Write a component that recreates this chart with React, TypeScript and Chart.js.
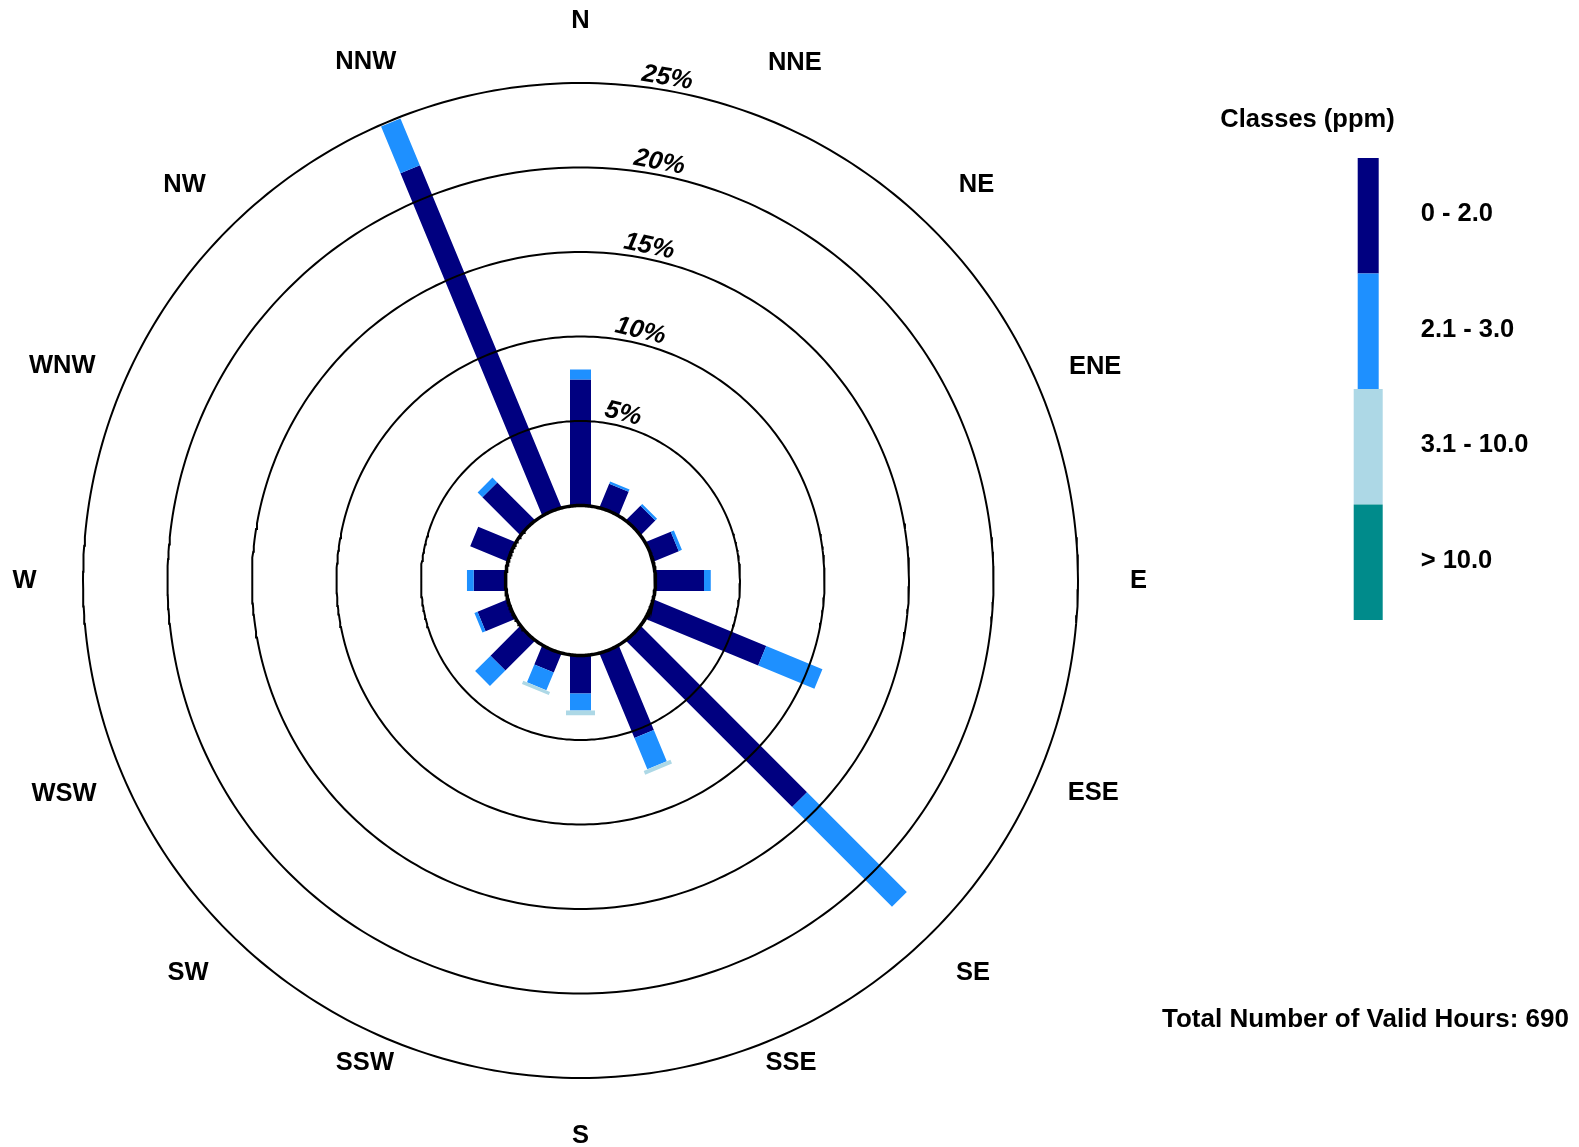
import React, { useEffect, useRef } from 'react';
import { Chart, registerables } from 'chart.js';

Chart.register(...registerables);

// ---------- data ----------
const directions = ['N', 'NNE', 'NE', 'ENE', 'E', 'ESE', 'SE', 'SSE', 'S', 'SSW', 'SW', 'WSW', 'W', 'WNW', 'NW', 'NNW'];
const classLabels = ['0 - 2.0', '2.1 - 3.0', '3.1 - 10.0', '> 10.0'];
// frequency (%) per direction for each concentration class
const class0to2 = [7.45, 1.5, 1.2, 1.6, 2.87, 7.2, 13.9, 5.4, 2.25, 1.2, 2.47, 1.9, 1.88, 2.37, 3.15, 21.9];
const class2to3 = [0.6, 0.15, 0.15, 0.2, 0.4, 3.6, 8.35, 2.0, 1.0, 1.14, 1.29, 0.2, 0.4, 0, 0.4, 3.0];
const class3to10 = [0, 0, 0, 0, 0, 0, 0, 0.24, 0.28, 0.2, 0, 0, 0, 0, 0, 0];
const classAbove10 = [0, 0, 0, 0, 0, 0, 0, 0, 0, 0, 0, 0, 0, 0, 0, 0];
const ringValues = [5, 10, 15, 20, 25];
const ringLabels = ['5%', '10%', '15%', '20%', '25%'];
const legendTitle = 'Classes (ppm)';
const totalLabel = 'Total Number of Valid Hours: 690';

// ---------- styling / layout ----------
const W = 1579;
const H = 1147;
const CX = 580.5;
const CY = 580.5;
const PX_PER_PCT = 16.9;
const HOLE_PX = 75;
const HOLE = HOLE_PX / PX_PER_PCT; // hole radius expressed in % units
const classColors = ['#000080', '#1E90FF', '#ADD8E6', '#008B8B'];
const classWidths = [21, 21, 29, 29];
const legendWidths = [21, 21, 29, 29];
const FONT = '"Liberation Sans", Arial, Helvetica, sans-serif';
const FS = 25.5;
// radial distance (px) and angle (deg) of each direction label's centre
const labelRadiusPx = [560, 560, 560, 557, 558, 555, 555, 526, 555, 528, 555, 559, 556, 561, 560, 561];
const labelAngleDeg = [0, 22.5, 45, 67.5, 90, 112.5, 135, 156.4, 180, 204.1, 225, 247.5, 270, 292.5, 315, 337.5];
// angle (deg, clockwise from north) of each ring label's centre
const ringLabelAngles = [14.3, 13.5, 11.6, 10.7, 9.8];

const polar = (r: number, i: number) => {
  const a = (i * 22.5 * Math.PI) / 180;
  return { x: r * Math.sin(a), y: r * Math.cos(a) };
};

const circle = (r: number) => {
  const pts = [] as { x: number; y: number }[];
  for (let d = 0; d <= 360; d += 1) {
    const a = (d * Math.PI) / 180;
    pts.push({ x: r * Math.sin(a), y: r * Math.cos(a) });
  }
  return pts;
};

const labelPlugin = {
  id: 'roseLabels',
  afterDraw(chart: any) {
    const ctx = chart.ctx as CanvasRenderingContext2D;
    const xs = chart.scales.x;
    const ys = chart.scales.y;
    ctx.save();
    ctx.fillStyle = '#000';
    // direction labels
    ctx.font = `bold ${FS}px ${FONT}`;
    ctx.textAlign = 'center';
    ctx.textBaseline = 'middle';
    directions.forEach((d, i) => {
      const labR = (labelRadiusPx[i] - HOLE_PX) / PX_PER_PCT + HOLE;
      const a = (labelAngleDeg[i] * Math.PI) / 180;
      ctx.fillText(d, xs.getPixelForValue(labR * Math.sin(a)), ys.getPixelForValue(labR * Math.cos(a)));
    });
    // ring labels
    ctx.font = `italic bold ${FS}px ${FONT}`;
    ringValues.forEach((v, k) => {
      const ang = (ringLabelAngles[k] * Math.PI) / 180;
      const rData = HOLE + v + 12.5 / PX_PER_PCT;
      const px = xs.getPixelForValue(rData * Math.sin(ang));
      const py = ys.getPixelForValue(rData * Math.cos(ang));
      ctx.save();
      ctx.translate(px, py);
      ctx.rotate(ang);
      ctx.fillText(ringLabels[k], 0, 0);
      ctx.restore();
    });
    // legend
    ctx.font = `bold ${FS}px ${FONT}`;
    ctx.textAlign = 'center';
    ctx.fillText(legendTitle, 1307.5, 120);
    const segTop = 158;
    const segH = 115.5;
    classLabels.forEach((lab, c) => {
      const wd = legendWidths[c];
      const x0 = 1368.2 - wd / 2;
      ctx.fillStyle = classColors[c];
      ctx.fillRect(x0, segTop + c * segH, wd, segH);
      ctx.fillStyle = '#000';
      ctx.textAlign = 'left';
      ctx.fillText(lab, 1420.7, segTop + c * segH + segH / 2 - 1.5);
    });
    // total
    ctx.font = `bold 26px ${FONT}`;
    ctx.textAlign = 'left';
    ctx.fillText(totalLabel, 1162, 1020);
    ctx.restore();
  },
};

export default function App() {
  const ref = useRef<HTMLCanvasElement>(null);
  useEffect(() => {
    if (!ref.current) return;
    const classes = [class0to2, class2to3, class3to10, classAbove10];
    const barSets = classes.map((vals, c) => {
      const data: any[] = [];
      vals.forEach((v, i) => {
        if (v <= 0) return;
        let base = HOLE;
        for (let k = 0; k < c; k++) base += classes[k][i];
        data.push(polar(base, i), polar(base + v, i), { x: null, y: null });
      });
      return {
        label: classLabels[c],
        data,
        showLine: true,
        borderColor: classColors[c],
        backgroundColor: classColors[c],
        borderWidth: classWidths[c],
        borderCapStyle: 'butt',
        pointRadius: 0,
        spanGaps: false,
        fill: false,
        order: 10 - c,
      };
    });
    const ringSets = ringValues.map((v) => ({
      label: `ring ${v}`,
      data: circle(HOLE + v),
      showLine: true,
      borderColor: '#000',
      borderWidth: 2,
      pointRadius: 0,
      fill: false,
      order: 1,
    }));
    const holeSet = {
      label: 'hole',
      data: circle(HOLE),
      showLine: true,
      borderColor: '#000',
      borderWidth: 3.5,
      pointRadius: 0,
      fill: false,
      order: 0,
    };
    const chart = new Chart(ref.current, {
      type: 'scatter',
      data: { datasets: [...barSets, ...ringSets, holeSet] as any },
      options: {
        animation: false,
        responsive: false,
        devicePixelRatio: 1,
        layout: { padding: 0 },
        plugins: { legend: { display: false }, tooltip: { enabled: false } },
        elements: { line: { tension: 0 } },
        scales: {
          x: { type: 'linear', display: false, min: -CX / PX_PER_PCT, max: (W - CX) / PX_PER_PCT },
          y: { type: 'linear', display: false, min: -(H - CY) / PX_PER_PCT, max: CY / PX_PER_PCT },
        },
      },
      plugins: [labelPlugin],
    });
    return () => chart.destroy();
  }, []);
  return (
    <canvas
      ref={ref}
      width={W}
      height={H}
      style={{ position: 'absolute', left: 0, top: 0, width: W, height: H, display: 'block', background: '#fff' }}
    />
  );
}
